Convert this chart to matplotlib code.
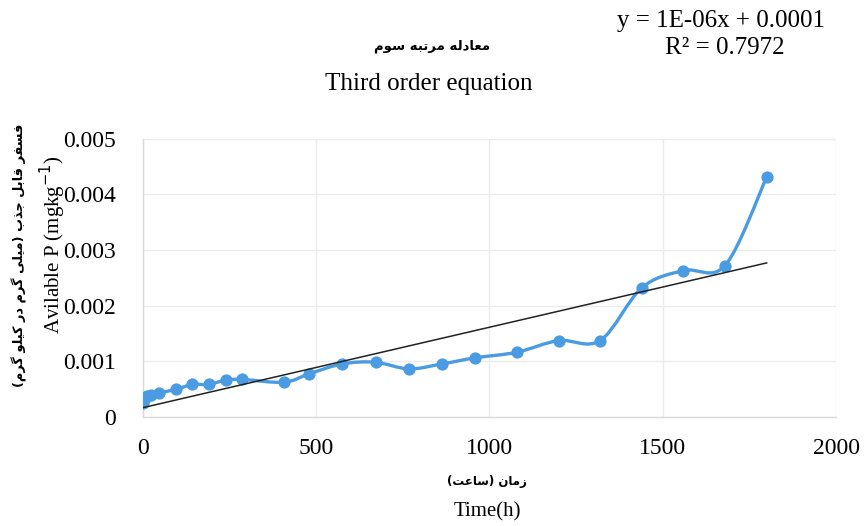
import numpy as np
import matplotlib
matplotlib.use("Agg")
import matplotlib.pyplot as plt
from matplotlib.path import Path
from matplotlib.patches import PathPatch

# ---- data ----
time_h = [0, 6, 12, 24, 48, 96, 144, 192, 240, 288, 408, 480, 576, 672, 768,
          864, 960, 1080, 1200, 1320, 1440, 1560, 1680, 1800]
avail_p = [0.00024, 0.00034, 0.00037, 0.00039, 0.00043, 0.00049, 0.00058, 0.00058,
           0.00066, 0.00067, 0.00062, 0.00077, 0.00095, 0.00098, 0.00086,
           0.00095, 0.00106, 0.00116, 0.00137, 0.00137, 0.00232, 0.00263,
           0.00272, 0.00431]
x_ticks = [0, 500, 1000, 1500, 2000]
y_ticks = [0, 0.001, 0.002, 0.003, 0.004, 0.005]
y_tick_labels = ["0", "0.001", "0.002", "0.003", "0.004", "0.005"]

title_fa = "معادله مرتبه سوم"
title_en = "Third order equation"
ylabel_fa = "فسفر قابل جذب (میلی گرم در کیلو گرم)"
ylabel_en = r"Avilable P (mgkg$^{-1}$)"
xlabel_fa = "زمان (ساعت)"
xlabel_en = "Time(h)"
eq_text = "y = 1E-06x + 0.0001"
r2_text = "R² = 0.7972"

# ---- simple Persian shaping (presentation forms, visual order) ----
FORMS = {
    'ا': ('\uFE8D', '\uFE8E'), 'د': ('\uFEA9', '\uFEAA'), 'ذ': ('\uFEAB', '\uFEAC'),
    'ر': ('\uFEAD', '\uFEAE'), 'ز': ('\uFEAF', '\uFEB0'), 'و': ('\uFEED', '\uFEEE'),
    'ب': ('\uFE8F', '\uFE90', '\uFE91', '\uFE92'),
    'ت': ('\uFE95', '\uFE96', '\uFE97', '\uFE98'),
    'ج': ('\uFE9D', '\uFE9E', '\uFE9F', '\uFEA0'),
    'س': ('\uFEB1', '\uFEB2', '\uFEB3', '\uFEB4'),
    'ع': ('\uFEC9', '\uFECA', '\uFECB', '\uFECC'),
    'ف': ('\uFED1', '\uFED2', '\uFED3', '\uFED4'),
    'ق': ('\uFED5', '\uFED6', '\uFED7', '\uFED8'),
    'ل': ('\uFEDD', '\uFEDE', '\uFEDF', '\uFEE0'),
    'م': ('\uFEE1', '\uFEE2', '\uFEE3', '\uFEE4'),
    'ن': ('\uFEE5', '\uFEE6', '\uFEE7', '\uFEE8'),
    'ه': ('\uFEE9', '\uFEEA', '\uFEEB', '\uFEEC'),
    'ی': ('\uFBFC', '\uFBFD', '\uFBFE', '\uFBFF'),
    'ک': ('\uFB8E', '\uFB8F', '\uFB90', '\uFB91'),
    'گ': ('\uFB92', '\uFB93', '\uFB94', '\uFB95'),
}


def shape_fa(s):
    out = []
    for i, c in enumerate(s):
        if c not in FORMS:
            out.append(c)
            continue
        f = FORMS[c]
        prev = s[i - 1] if i > 0 else ''
        nxt = s[i + 1] if i + 1 < len(s) else ''
        jp = prev in FORMS and len(FORMS[prev]) == 4
        jn = len(f) == 4 and nxt in FORMS
        if jp and jn:
            out.append(f[3])
        elif jp:
            out.append(f[1])
        elif jn:
            out.append(f[2])
        else:
            out.append(f[0])
    vis = ''.join(reversed(out))
    return vis.translate(str.maketrans('()', ')('))


SERIF = ['Liberation Serif', 'DejaVu Sans']
FA = ['DejaVu Sans']
BLUE = '#4A9BE2'

W, H = 864, 526
fig = plt.figure(figsize=(W / 100, H / 100), dpi=100)
ax = fig.add_axes([142.5 / W, 1 - 416.7 / H, (836 - 142.5) / W, (416.7 - 138.8) / H])

ax.set_xlim(0, 2000)
ax.set_ylim(0, 0.005)
ax.set_xticks(x_ticks)
ax.set_yticks(y_ticks)
ax.set_yticklabels(y_tick_labels)
ax.tick_params(length=0, labelsize=17)
ax.tick_params(axis='y', pad=19)
ax.tick_params(axis='x', pad=15)
for lab in ax.get_xticklabels() + ax.get_yticklabels():
    lab.set_family(SERIF)
ax.grid(True, color='#EBEBEB', linewidth=1.0)
ax.set_axisbelow(True)
for side in ['top', 'right']:
    ax.spines[side].set_visible(False)
for side in ['left', 'bottom']:
    ax.spines[side].set_color('#D9D9D9')
    ax.spines[side].set_linewidth(1.0)

# smoothed line (Catmull-Rom style Bezier, like Excel smoothing)
x = np.asarray(time_h, float)
y = np.asarray(avail_p, float)
P = np.column_stack([x, y])
n = len(P)
verts = [tuple(P[0])]
codes = [Path.MOVETO]
for i in range(n - 1):
    p0 = P[i - 1] if i > 0 else P[i]
    p1 = P[i]
    p2 = P[i + 1]
    p3 = P[i + 2] if i + 2 < n else P[i + 1]
    c1 = p1 + (p2 - p0) / 6.0
    c2 = p2 - (p3 - p1) / 6.0
    verts += [tuple(c1), tuple(c2), tuple(p2)]
    codes += [Path.CURVE4] * 3
ax.add_patch(PathPatch(Path(verts, codes), facecolor='none', edgecolor=BLUE,
                       linewidth=2.4, capstyle='round', joinstyle='round', zorder=3))
ax.plot(x, y, linestyle='none', marker='o', markersize=7.8, color=BLUE, zorder=4)

# linear trendline
k, b = np.polyfit(x, y, 1)
xt = np.array([x.min(), x.max()])
ax.plot(xt, k * xt + b, color='#222222', linewidth=1.1, zorder=5)


def ftext(px, py, s, **kw):
    fig.text(px / W, 1 - py / H, s, ha='center', va='center', **kw)


ftext(721, 21, eq_text, fontsize=18, family=SERIF)
ftext(725, 48, r2_text, fontsize=18, family=SERIF)
ftext(432, 46, shape_fa(title_fa), fontsize=9.5, family=FA, fontweight='bold')
ftext(429, 84, title_en, fontsize=18, family=SERIF)
ftext(19, 255, shape_fa(ylabel_fa), fontsize=9.3, family=FA, rotation=90, fontweight='bold')
ftext(53, 245, ylabel_en, fontsize=15, family=SERIF, rotation=90)
ftext(487, 482, shape_fa(xlabel_fa), fontsize=8.5, family=FA, fontweight='bold')
ftext(487, 512, xlabel_en, fontsize=15, family=SERIF)

fig.savefig('out.png', dpi=100)
